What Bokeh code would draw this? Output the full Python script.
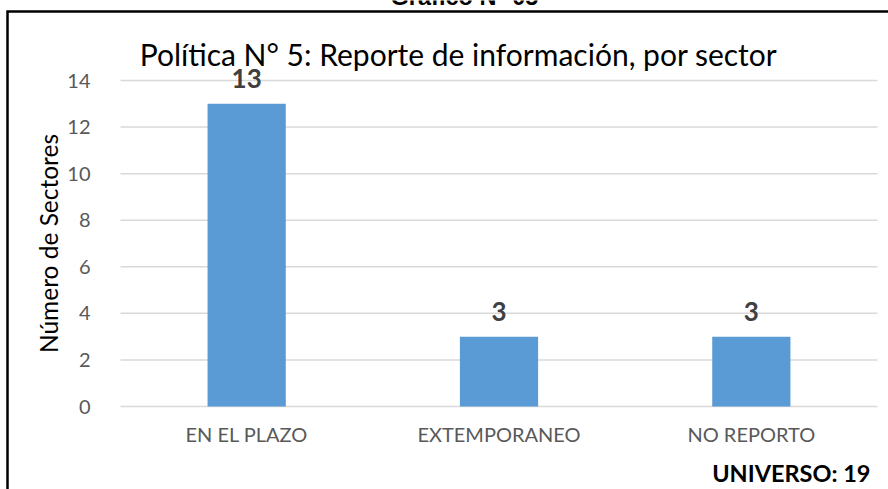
from bokeh.plotting import figure
from bokeh.models import (ColumnDataSource, Range1d, FixedTicker, Label, LabelSet)
from bokeh.core.properties import value
from bokeh.embed import file_html
from bokeh.resources import INLINE
import math

categories = ["EN EL PLAZO", "EXTEMPORANEO", "NO REPORTO"]
values = [13, 3, 3]
y_ticks = [0, 2, 4, 6, 8, 10, 12, 14]
chart_title = "Política N° 5: Reporte de información, por sector"
top_title = "Gráfico N° 05"
y_label = "Número de Sectores"
universe = "UNIVERSO: 19"

# layout constants (canvas pixels)
W, H = 888, 489
FL, FR, FT, FB = 120, 877, 80, 406   # plot-area box of the bars / gridlines
n = len(categories)
ux = (FR - FL) / n
uy = (FB - FT) / (y_ticks[-1] - y_ticks[0])
x0 = -0.5 - FL / ux
x1 = n - 0.5 + (W - FR) / ux
y0 = y_ticks[0] - (H - FB) / uy
y1 = y_ticks[-1] + FT / uy

xi = list(range(n))
src = ColumnDataSource(dict(x=xi, val=values, lab=[str(v) for v in values]))
grid_src = ColumnDataSource(dict(y=y_ticks, xa=[-0.5] * len(y_ticks),
                                 xb=[n - 0.5] * len(y_ticks)))

p = figure(width=W, height=H, x_range=Range1d(x0, x1), y_range=Range1d(y0, y1),
           output_backend="svg", toolbar_location=None,
           min_border_left=0, min_border_right=0, min_border_top=0, min_border_bottom=0)
p.margin = (0, 0, 0, 0)
p.title = None
p.outline_line_color = None
p.background_fill_color = "white"
p.border_fill_color = "white"
p.xgrid.visible = False
p.ygrid.visible = False

p.extra_x_ranges["px"] = Range1d(0, W)
p.extra_y_ranges["py"] = Range1d(H, 0)

# gridlines
p.segment(x0="xa", x1="xb", y0="y", y1="y", source=grid_src,
          line_color="#D9D9D9", line_width=1.5)

p.vbar(x="x", top="val", width=0.31, source=src, fill_color="#5B9BD5", line_color=None)

FONT = "Lato"
p.xaxis.fixed_location = 0
p.xaxis.ticker = FixedTicker(ticks=xi)
p.xaxis.major_label_overrides = {i: c for i, c in zip(xi, categories)}
p.xaxis.axis_line_color = None
p.xaxis.major_tick_line_color = None
p.xaxis.minor_tick_line_color = None
p.xaxis.major_label_text_color = "#595959"
p.xaxis.major_label_text_font = FONT
p.xaxis.major_label_text_font_size = "20px"
p.xaxis.major_label_standoff = 9

p.yaxis.fixed_location = -0.5
p.yaxis.ticker = FixedTicker(ticks=y_ticks)
p.yaxis.axis_line_color = None
p.yaxis.major_tick_line_color = None
p.yaxis.minor_tick_line_color = None
p.yaxis.major_label_text_color = "#595959"
p.yaxis.major_label_text_font = FONT
p.yaxis.major_label_text_font_size = "20px"
p.yaxis.major_label_standoff = 24

p.add_layout(LabelSet(x="x", y="val", text="lab", source=src, text_align="center",
                      text_baseline="alphabetic", y_offset=16, text_font=value(FONT),
                      text_font_style="bold", text_font_size="26px", text_color="#404040"))

def lab(x, y, text, **kw):
    p.add_layout(Label(x=x, y=y, text=text, x_range_name="px", y_range_name="py",
                       text_baseline="middle", **kw))

lab(458, 53, chart_title, text_font=FONT, text_font_size="30px", text_color="black",
    text_align="center")
lab(48, 243, y_label, angle=math.pi / 2, text_font=FONT, text_font_size="24.5px",
    text_color="black", text_align="center")
lab(870, 472, universe, text_font=FONT, text_font_size="23.5px", text_font_style="bold",
    text_color="black", text_align="right")
lab(464, -4, top_title, text_font="Liberation Sans", text_font_size="23.5px",
    text_font_style="bold", text_color="black", text_align="center")

# chart-area frame (top and left edges visible; the rest lies outside the crop)
p.line(x=[7, 7, W + 10], y=[H + 10, 11, 11], x_range_name="px", y_range_name="py",
       line_color="black", line_width=2.5, line_join="miter")

open("out.html", "w").write(file_html(p, INLINE))
